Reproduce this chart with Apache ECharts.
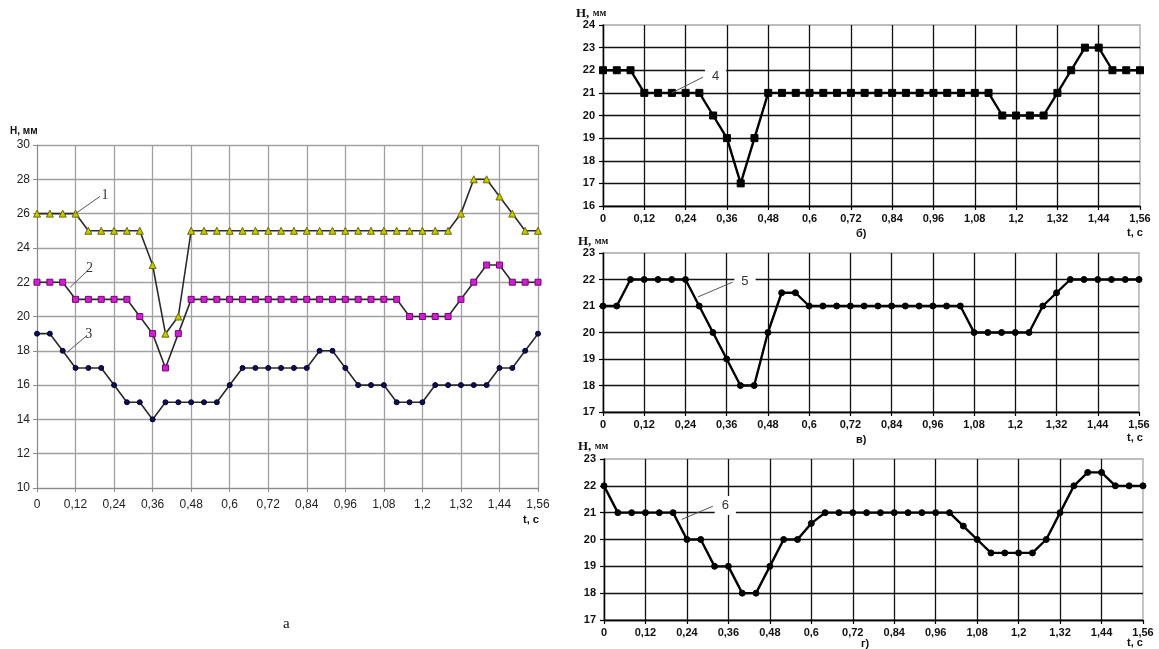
<!DOCTYPE html>
<html><head><meta charset="utf-8">
<script src="https://cdn.jsdelivr.net/npm/echarts@6/dist/echarts.min.js"></script>
<style>html,body{margin:0;padding:0;background:#fff}#c{width:1159px;height:649px}</style>
</head><body><div id="c"></div>
<script>
const times = [0,0.04,0.08,0.12,0.16,0.20,0.24,0.28,0.32,0.36,0.40,0.44,0.48,0.52,0.56,0.60,0.64,0.68,0.72,0.76,0.80,0.84,0.88,0.92,0.96,1.00,1.04,1.08,1.12,1.16,1.20,1.24,1.28,1.32,1.36,1.40,1.44,1.48,1.52,1.56];
const s1 = [26,26,26,26,25,25,25,25,25,23,19,20,25,25,25,25,25,25,25,25,25,25,25,25,25,25,25,25,25,25,25,25,25,26,28,28,27,26,25,25];
const s2 = [22,22,22,21,21,21,21,21,20,19,17,19,21,21,21,21,21,21,21,21,21,21,21,21,21,21,21,21,21,20,20,20,20,21,22,23,23,22,22,22];
const s3 = [19,19,18,17,17,17,16,15,15,14,15,15,15,15,15,16,17,17,17,17,17,17,18,18,17,16,16,16,15,15,15,16,16,16,16,16,17,17,18,19];
const s4 = [22,22,22,21,21,21,21,21,20,19,17,19,21,21,21,21,21,21,21,21,21,21,21,21,21,21,21,21,21,20,20,20,20,21,22,23,23,22,22,22];
const s5 = [21,21,22,22,22,22,22,21,20,19,18,18,20,21.5,21.5,21,21,21,21,21,21,21,21,21,21,21,21,20,20,20,20,20,21,21.5,22,22,22,22,22,22];
const s6 = [22,21,21,21,21,21,20,20,19,19,18,18,19,20,20,20.6,21,21,21,21,21,21,21,21,21,21,20.5,20,19.5,19.5,19.5,19.5,20,21,22,22.5,22.5,22,22,22];
const xTicks = {min:0, max:1.56, interval:0.12};
const yRangeA = {min:10, max:30, interval:2};
const yRangeB = {min:16, max:24, interval:1};
const yRangeC = {min:17, max:23, interval:1};
const yRangeD = {min:17, max:23, interval:1};
const curveLabels = ['1','2','3','4','5','6'];
// leader line anchors in data space: [t, H] start and end
const leaders = [
  [[0.12,26],[0.196,27.0]],
  [[0.103,21.7],[0.159,22.7]],
  [[0.093,17.9],[0.156,18.9]],
  [[0.20,21.0],[0.291,21.7]],
  [[0.276,21.34],[0.377,21.9]],
  [[0.225,20.75],[0.315,21.24]]
];

const pairs = v => times.map((t,i)=>[t, v[i]]);
const fmtX = v => String(+(+v).toFixed(2)).replace('.', ',');
const sans = 'Liberation Sans, Arial, sans-serif';
const serif = 'Liberation Serif, Times New Roman, serif';

function xA(gi, left){
  const a = left ? {
    axisLine:{onZero:false, lineStyle:{color:'#8a8a8a', width:1}},
    axisTick:{show:true, length:4, lineStyle:{color:'#8a8a8a'}},
    axisLabel:{formatter:fmtX, color:'#222', fontSize:12, fontFamily:sans, margin:11},
    splitLine:{show:true, lineStyle:{color:'#a0a0a0', width:1.3}}
  } : {
    axisLine:{onZero:false, lineStyle:{color:'#000', width:1.3}},
    axisTick:{show:true, length:4, lineStyle:{color:'#000', width:1.2}},
    axisLabel:{formatter:fmtX, color:'#111', fontSize:11, fontWeight:'bold', fontFamily:sans, margin:7},
    splitLine:{show:true, showMaxLine:false, lineStyle:{color:'#111', width:1.3}}
  };
  return Object.assign({gridIndex:gi, type:'value'}, xTicks, a);
}
function yA(gi, r, left){
  const a = left ? {
    axisLine:{show:true, onZero:false, lineStyle:{color:'#8a8a8a', width:1}},
    axisTick:{show:true, length:4, lineStyle:{color:'#8a8a8a'}},
    axisLabel:{color:'#222', fontSize:12, fontFamily:sans, margin:7},
    splitLine:{show:true, lineStyle:{color:'#a0a0a0', width:1.3}}
  } : {
    axisLine:{show:true, onZero:false, lineStyle:{color:'#000', width:1.3}},
    axisTick:{show:true, length:4, lineStyle:{color:'#000', width:1.2}},
    axisLabel:{color:'#111', fontSize:11, fontWeight:'bold', fontFamily:sans, margin:8},
    splitLine:{show:true, showMaxLine:false, lineStyle:{color:'#111', width:1.3}}
  };
  return Object.assign({gridIndex:gi, type:'value'}, r, a);
}
function leader(i, whiteBg){
  const L = leaders[i];
  return {
    silent:true, symbol:'none', animation:false,
    lineStyle:{color:'#555', width:1, type:'solid'},
    label:{show:true, position:'end', formatter:curveLabels[i], distance:2,
      fontFamily: whiteBg ? sans : serif, fontSize: whiteBg ? 13 : 14, color:'#333',
      backgroundColor: whiteBg ? '#fff' : 'transparent', padding: whiteBg ? [3,7] : 0},
    emphasis:{disabled:true},
    data:[[{coord:L[0]},{coord:L[1]}]]
  };
}
function ser(gi, data, sym, size, fill, border, lw, lineColor, li, whiteBg){
  return {type:'line', xAxisIndex:gi, yAxisIndex:gi, data:pairs(data),
    symbol:sym, symbolSize:size, showAllSymbol:true,
    itemStyle:{color:fill, borderColor:border, borderWidth:1},
    lineStyle:{color:lineColor, width:lw}, animation:false, z:3,
    markLine: leader(li, whiteBg)};
}

const chart = echarts.init(document.getElementById('c'), null, {renderer:'canvas'});
const tStyle = (x,y,text,opt) => ({type:'text', left:x, top:y, style:Object.assign({text, fill:'#111', font:'bold 11px '+sans}, opt||{})});
const hLabel = (x,y) => ({type:'text', left:x, top:y, style:{
  text:'{a|H,} {b|мм}', rich:{a:{fontFamily:serif, fontSize:13, fontWeight:'bold', fill:'#111'}, b:{fontFamily:serif, fontSize:10, fontWeight:'bold', fill:'#111'}}}});
chart.setOption({
  backgroundColor:'#fff',
  grid:[
    {left:37, top:145, width:501, height:343},
    {left:603, top:25, width:537, height:181, show:true, borderColor:'#a8a8a8', borderWidth:1.3},
    {left:603, top:253, width:536, height:159, show:true, borderColor:'#a8a8a8', borderWidth:1.3},
    {left:604, top:459, width:539, height:161, show:true, borderColor:'#a8a8a8', borderWidth:1.3}
  ],
  xAxis:[xA(0,true), xA(1,false), xA(2,false), xA(3,false)],
  yAxis:[yA(0,yRangeA,true), yA(1,yRangeB,false), yA(2,yRangeC,false), yA(3,yRangeD,false)],
  series:[
    ser(0, s1, 'triangle', 7, '#c8c800', '#6b6b00', 1.6, '#2a2a2a', 0, false),
    ser(0, s2, 'rect', 6, '#cc22cc', '#7a007a', 1.6, '#2a2a2a', 1, false),
    ser(0, s3, 'circle', 5, '#101050', '#000030', 1.6, '#2a2a2a', 2, false),
    ser(1, s4, 'rect', 7, '#000', '#000', 2.4, '#000', 3, true),
    ser(2, s5, 'circle', 6, '#000', '#000', 2.4, '#000', 4, true),
    ser(3, s6, 'circle', 6, '#000', '#000', 2.4, '#000', 5, true)
  ],
  graphic:[
    tStyle(10, 126, 'H, мм', {font:'bold 10px '+sans}),
    tStyle(523, 514, 't, c', {font:'bold 11px '+sans}),
    tStyle(283, 617, 'а', {font:'15px '+serif}),
    hLabel(576, 7), hLabel(578, 235), hLabel(578, 440),
    tStyle(1127, 227, 't, c'), tStyle(1127, 432, 't, c'), tStyle(1127, 637, 't, c'),
    tStyle(856, 228, 'б)'), tStyle(856, 434, 'в)'), tStyle(861, 638, 'г)')
  ]
});
</script></body></html>
